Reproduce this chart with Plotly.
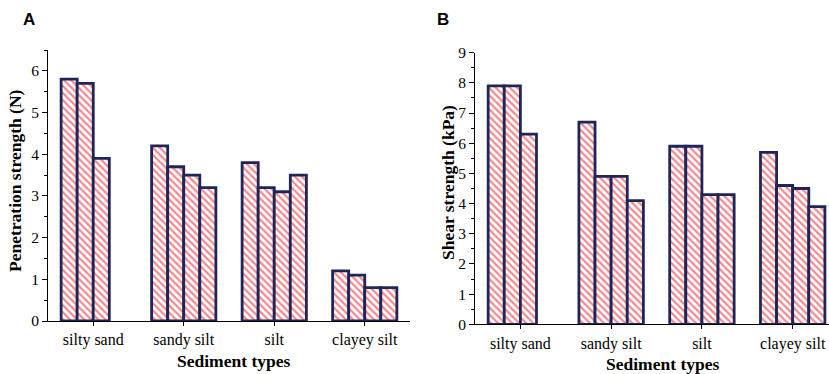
import plotly.graph_objects as go

categories = ["silty sand", "sandy silt", "silt", "clayey silt"]

# Panel A: penetration strength (N)
pen_1 = [5.8, 4.2, 3.8, 1.2]
pen_2 = [5.7, 3.7, 3.2, 1.1]
pen_3 = [3.9, 3.5, 3.1, 0.8]
pen_4 = [None, 3.2, 3.5, 0.8]

# Panel B: shear strength (kPa)
shear_1 = [7.9, 6.7, 5.9, 5.7]
shear_2 = [7.9, 4.9, 5.9, 4.6]
shear_3 = [6.3, 4.9, 4.3, 4.5]
shear_4 = [None, 4.1, 4.3, 3.9]

pen_ticks = [0, 1, 2, 3, 4, 5, 6]
shear_ticks = [0, 1, 2, 3, 4, 5, 6, 7, 8, 9]

RED = "#f0101a"
NAVY = "#1d2658"
SERIF = "Liberation Serif, Times New Roman, serif"
SANS = "Liberation Sans, Arial, sans-serif"
W, H = 829, 374

fig = go.Figure()

def add_bars(series, xa, ya):
    for vals in series:
        fig.add_trace(go.Bar(
            x=categories, y=vals, xaxis=xa, yaxis=ya,
            marker=dict(
                color="white",
                line=dict(color=NAVY, width=2.8),
                pattern=dict(shape="\\", fgcolor=RED, bgcolor="white",
                             size=5, solidity=0.45, fillmode="overlay"),
            ),
            showlegend=False, hoverinfo="x+y",
        ))

add_bars([pen_1, pen_2, pen_3, pen_4], "x", "y")
add_bars([shear_1, shear_2, shear_3, shear_4], "x2", "y2")

xcommon = dict(
    type="category", showline=True, linecolor="black", linewidth=1,
    ticks="outside", ticklen=4, tickcolor="black", tickwidth=1,
    tickfont=dict(family=SERIF, size=16, color="black"),
    showgrid=False, zeroline=False, automargin=False,
)
ycommon = dict(
    showline=True, linecolor="black", linewidth=1,
    ticks="outside", ticklen=5, tickcolor="black", tickwidth=1,
    tickfont=dict(family=SERIF, size=15.5, color="black"),
    showgrid=False, zeroline=False, automargin=False,
    minor=dict(ticks="outside", ticklen=3, dtick=0.5, tickcolor="black", showgrid=False),
)

def ann(text, x, y, font, angle=0):
    return dict(text=text, x=x / W, y=1 - y / H, xref="paper", yref="paper",
                showarrow=False, font=font, textangle=angle,
                xanchor="center", yanchor="middle")

title_font = dict(family=SERIF, size=17.5, color="black")
letter_font = dict(family=SANS, size=17, color="black")

fig.update_layout(
    width=W, height=H,
    margin=dict(l=0, r=0, t=0, b=0, autoexpand=False),
    paper_bgcolor="white", plot_bgcolor="white",
    barmode="group", bargap=0.29, bargroupgap=0,
    xaxis=dict(xcommon, domain=[48 / W, 410 / W], anchor="y", range=[-0.5, 3.5]),
    yaxis=dict(ycommon, domain=[1 - 321 / H, 1 - 50 / H], anchor="x", range=[0, 6.5],
               tickvals=pen_ticks),
    xaxis2=dict(xcommon, domain=[475 / W, 1.0], anchor="y2", range=[-0.5, 3.4]),
    yaxis2=dict(ycommon, domain=[1 - 324.3 / H, 1 - 52.7 / H], anchor="x2", range=[0, 9],
                tickvals=shear_ticks),
    annotations=[
        ann("<b>A</b>", 29, 20, letter_font),
        ann("<b>B</b>", 443, 20, letter_font),
        ann("<b>Sediment types</b>", 233, 361, title_font),
        ann("<b>Sediment types</b>", 662, 364, title_font),
        ann("<b>Penetration strength (N)</b>", 15, 181, title_font, -90),
        ann("<b>Shear strength (kPa)</b>", 448, 183, title_font, -90),
    ],
)

fig.write_html(
    "out.html",
    config={"displayModeBar": False},
    post_script="document.body.style.margin='0';document.body.style.overflow='hidden';",
)
